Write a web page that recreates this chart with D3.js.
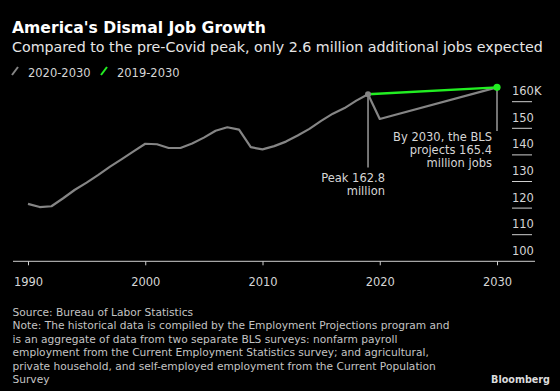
<!DOCTYPE html>
<html><head><meta charset="utf-8">
<script src="https://cdn.jsdelivr.net/npm/d3@7"></script>
<style>
html,body{margin:0;padding:0;background:#000;}
svg{display:block;font-family:"DejaVu Sans",sans-serif;}
</style></head>
<body>
<script>
const histYears = [1990,1991,1992,1993,1994,1995,1996,1997,1998,1999,2000,2001,2002,2003,2004,2005,2006,2007,2008,2009,2010,2011,2012,2013,2014,2015,2016,2017,2018,2019,2020,2030];
const histValues = [121.6,120.4,120.7,123.7,126.9,129.6,132.5,135.6,138.4,141.3,144.2,144.0,142.6,142.6,144.3,146.5,149.1,150.4,149.5,142.9,142.1,143.3,145.0,147.3,149.8,152.8,155.5,157.6,160.4,162.8,153.5,165.4];
const projYears = [2019,2030];
const projValues = [162.8,165.4];
const legendLabels = ["2020-2030","2019-2030"];
const xTicks = [1990,2000,2010,2020,2030];
const yTicks = [100,110,120,130,140,150,160];

const W=560,H=391;
const svg=d3.select("body").append("svg").attr("width",W).attr("height",H);
svg.append("rect").attr("width",W).attr("height",H).attr("fill","#000");

// font size that makes a string reach a given width
function fit(str,target,weight){
  const t=svg.append("text").attr("font-size",100).attr("font-weight",weight||"normal").text(str);
  const w=t.node().getComputedTextLength(); t.remove();
  return 100*target/w;
}
const fsTitle=fit("America's Dismal Job Growth",254,"bold");
const fsSub=fit("Compared to the pre-Covid peak, only 2.6 million additional jobs expected",531);
const fsLab=fit("By 2030, the BLS",99);
const fsFoot=fit("Note: The historical data is compiled by the Employment Projections program and",437.5);
const fsLogo=fit("Bloomberg",59,"bold");

const x=d3.scaleLinear().domain([1990,2030]).range([28,497]);
const y=d3.scaleLinear().domain([100,160]).range([261.3,101.7]);

// title
svg.append("text").attr("x",12).attr("y",32.5).attr("fill","#fff").attr("font-weight","bold").attr("font-size",fsTitle).text("America's Dismal Job Growth");
svg.append("text").attr("x",12).attr("y",51.5).attr("fill","#e6e6e6").attr("font-size",fsSub).text("Compared to the pre-Covid peak, only 2.6 million additional jobs expected");

// legend
const legColors=["#858585","#22ee22"];
const legX=[12,101];
legendLabels.forEach((l,i)=>{
  svg.append("line").attr("x1",legX[i]).attr("y1",75).attr("x2",legX[i]+6).attr("y2",67).attr("stroke",legColors[i]).attr("stroke-width",2);
  svg.append("text").attr("x",legX[i]+16).attr("y",76.5).attr("fill","#d6d6d6").attr("font-size",fsLab).text(l);
});

// y ticks
yTicks.forEach(v=>{
  if(v!==100) svg.append("line").attr("x1",512).attr("x2",532).attr("y1",y(v)).attr("y2",y(v)).attr("stroke","#cfcfcf").attr("stroke-width",1);
  svg.append("text").attr("x",512).attr("y",y(v)-6.5).attr("fill","#d6d6d6").attr("font-size",fsLab).text(v===160?"160K":v);
});

// x axis
svg.append("line").attr("x1",13).attr("x2",535).attr("y1",y(100)).attr("y2",y(100)).attr("stroke","#cfcfcf").attr("stroke-width",1);
const xa=svg.append("g").attr("transform",`translate(0,${y(100)})`)
  .call(d3.axisBottom(x).tickValues(xTicks).tickSize(4).tickFormat(d3.format("d")));
xa.select(".domain").remove();
xa.selectAll(".tick line").attr("stroke","#cfcfcf");
xa.selectAll(".tick text").attr("fill","#d6d6d6").attr("font-size",fsLab).attr("font-family","DejaVu Sans").attr("dy",null).attr("y",25);

// annotation lines
svg.append("line").attr("x1",x(2019)).attr("x2",x(2019)).attr("y1",y(162.8)).attr("y2",167.5).attr("stroke","#9a9a9a").attr("stroke-width",1.5);
svg.append("line").attr("x1",x(2030)).attr("x2",x(2030)).attr("y1",y(165.4)).attr("y2",131).attr("stroke","#9a9a9a").attr("stroke-width",1.5);

// lines
const line=d3.line().x(d=>x(d[0])).y(d=>y(d[1]));
svg.append("path").datum(histYears.map((d,i)=>[d,histValues[i]])).attr("d",line).attr("fill","none").attr("stroke","#858585").attr("stroke-width",2.2).attr("stroke-linejoin","round");
svg.append("path").datum(projYears.map((d,i)=>[d,projValues[i]])).attr("d",line).attr("fill","none").attr("stroke","#22ee22").attr("stroke-width",2.4);
svg.append("circle").attr("cx",x(2019)).attr("cy",y(162.8)).attr("r",3).attr("fill","#858585");
svg.append("circle").attr("cx",x(2030)).attr("cy",y(165.4)).attr("r",3.6).attr("fill","#22ee22");

// annotation text
const a1=["Peak 162.8","million"];
a1.forEach((t,i)=>svg.append("text").attr("x",385).attr("y",181.7+i*13.4).attr("text-anchor","end").attr("fill","#d6d6d6").attr("font-size",fsLab).text(t));
const a2=["By 2030, the BLS","projects 165.4","million jobs"];
a2.forEach((t,i)=>svg.append("text").attr("x",492).attr("y",140.5+i*13.4).attr("text-anchor","end").attr("fill","#d6d6d6").attr("font-size",fsLab).text(t));

// footer
const foot=["Source: Bureau of Labor Statistics",
"Note: The historical data is compiled by the Employment Projections program and",
"is an aggregate of data from two separate BLS surveys: nonfarm payroll",
"employment from the Current Employment Statistics survey; and agricultural,",
"private household, and self-employed employment from the Current Population",
"Survey"];
foot.forEach((t,i)=>svg.append("text").attr("x",12.5).attr("y",316+i*13.4).attr("fill","#c4c4c4").attr("font-size",fsFoot).text(t));
svg.append("text").attr("x",550).attr("y",383).attr("text-anchor","end").attr("fill","#dcdcdc").attr("font-weight","bold").attr("font-size",fsLogo).text("Bloomberg");
</script>
</body></html>
